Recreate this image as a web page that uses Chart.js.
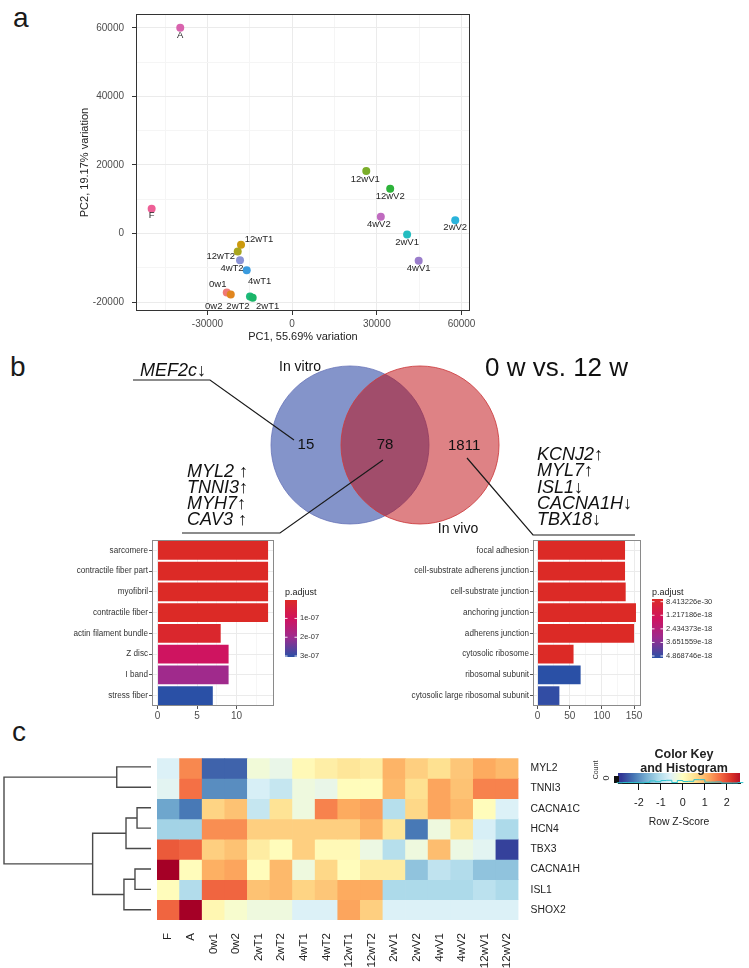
<!DOCTYPE html>
<html>
<head>
<meta charset="utf-8">
<script src="https://cdn.jsdelivr.net/npm/chart.js@4.4.1/dist/chart.umd.min.js"></script>
<style>
html,body{margin:0;padding:0;background:#fff;}
#page{position:relative;width:749px;height:968px;overflow:hidden;background:#fff;}
#page canvas{position:absolute;}
.plbl{position:absolute;font-family:'Liberation Sans',Arial,sans-serif;font-size:28px;line-height:28px;color:#1a1a1a;}
</style>
</head>
<body>
<div id="page">
  <div class="plbl" style="left:13px;top:4px;">a</div>
  <div class="plbl" style="left:10px;top:353px;">b</div>
  <div class="plbl" style="left:12px;top:718px;">c</div>
  <canvas id="cPCA" width="480" height="346" style="left:0;top:0;"></canvas>
  <canvas id="cVenn" width="749" height="215" style="left:0;top:330px;"></canvas>
  <canvas id="cGoL" width="380" height="200" style="left:0;top:530px;"></canvas>
  <canvas id="cGoR" width="369" height="200" style="left:380px;top:530px;"></canvas>
  <canvas id="cDend" width="157" height="228" style="left:0;top:740px;"></canvas>
  <canvas id="cHeat" width="749" height="228" style="left:0;top:740px;"></canvas>
  <canvas id="cKey" width="189" height="88" style="left:560px;top:740px;"></canvas>
</div>
<script>
// ================= DATA =================
// Panel a: PCA
const pcaSamples = ['A','F','12wV1','12wV2','4wV2','2wV2','2wV1','4wV1','12wT1','12wT2','4wT2','4wT1','0w1','0w2','2wT2','2wT1'];
const pc1Values  = [-39630,-49760,26260,34730,31410,57770,40720,44820,-18100,-19270,-18460,-16090,-23150,-21740,-14930,-13970];
const pc2Values  = [60000,7230,18280,13050,4890,3850,-280,-7960,-3260,-5230,-7760,-10690,-17150,-17800,-18360,-18730];
const pc1TickLabels = [-30000,0,30000,60000];
const pc2TickLabels = [-20000,0,20000,40000,60000];

// Panel b: Venn
const vennSets = ['In vitro','In vivo'];
const vennCounts = [15, 78, 1811];            // only in vitro, shared, only in vivo
const vennTitle = '0 w vs. 12 w';
const genesVitroOnly = ['MEF2c\u2193'];
const genesShared = ['MYL2 \u2191','TNNI3\u2191','MYH7\u2191','CAV3 \u2191'];
const genesVivoOnly = ['KCNJ2\u2191','MYL7\u2191','ISL1\u2193','CACNA1H\u2193','TBX18\u2193'];

// Panel b: GO enrichment (shared genes)
const goSharedTerms  = ['sarcomere','contractile fiber part','myofibril','contractile fiber','actin filament bundle','Z disc','I band','stress fiber'];
const goSharedCounts = [14,14,14,14,8,9,9,7];
const goSharedPadj   = [2.3e-9,2.3e-9,2.3e-9,2.3e-9,1.5e-8,1.05e-7,1.95e-7,3.05e-7];
const goSharedLegend = [1e-7,2e-7,3e-7];
const goSharedTicks  = [0,5,10];

// Panel b: GO enrichment (in vivo only genes)
const goVivoTerms  = ['focal adhesion','cell-substrate adherens junction','cell-substrate junction','anchoring junction','adherens junction','cytosolic ribosome','ribosomal subunit','cytosolic large ribosomal subunit'];
const goVivoCounts = [136,136,137,153,150,56,67,34];
const goVivoPadj   = [8.413226e-30,8.413226e-30,9.5e-30,1.2e-29,3.1e-29,2.6e-25,4.868746e-18,4.75e-18];
const goVivoLegend = [8.413226e-30,1.217186e-18,2.434373e-18,3.651559e-18,4.868746e-18];
const goVivoLegendText = ['8.413226e-30','1.217186e-18','2.434373e-18','3.651559e-18','4.868746e-18'];
const goVivoTicks  = [0,50,100,150];

// Panel c: heatmap (row z-scores)
const heatSamples = ['F','A','0w1','0w2','2wT1','2wT2','4wT1','4wT2','12wT1','12wT2','2wV1','2wV2','4wV1','4wV2','12wV1','12wV2'];
const heatGenes   = ['MYL2','TNNI3','CACNA1C','HCN4','TBX3','CACNA1H','ISL1','SHOX2'];
const zMYL2    = [-0.6,1.45,-2.4,-2.4,-0.25,-0.4,0.1,0.3,0.45,0.35,1.05,0.75,0.55,0.85,1.15,1.0];
const zTNNI3   = [-0.5,1.65,-2.0,-2.0,-0.65,-0.85,-0.3,-0.4,0.05,0.05,1.0,0.55,1.2,0.9,1.5,1.5];
const zCACNA1C = [-1.75,-2.2,0.7,0.9,-0.85,0.5,-0.3,1.5,1.15,1.25,-1.0,0.65,1.2,1.0,0.05,-0.6];
const zHCN4    = [-1.2,-1.2,1.4,1.4,0.75,0.75,0.75,0.75,0.75,1.05,0.45,-2.2,-0.3,0.5,-0.65,-1.1];
const zTBX3    = [1.85,1.75,0.75,0.9,0.35,0.05,0.75,0.1,0.1,-0.35,-1.0,-0.3,0.95,-0.35,-0.5,-2.7];
const zCACNA1H = [2.8,0.05,1.1,1.2,0.05,1.0,-0.3,0.65,0.05,0.35,0.35,-1.4,-0.9,-1.05,-1.4,-1.4];
const zISL1    = [0.05,-1.05,1.75,1.75,0.9,1.0,0.7,0.85,1.15,1.15,-1.1,-1.1,-1.1,-1.1,-0.95,-1.1];
const zSHOX2   = [1.75,2.8,0.15,-0.15,-0.3,-0.3,-0.6,-0.6,1.2,0.75,-0.6,-0.6,-0.6,-0.6,-0.6,-0.6];
const zKeyTicks = [-2,-1,0,1,2];

// Panel c: row dendrogram (hclust-style merges; negative = leaf row, positive = earlier merge)
const mergeA = [-3,-6,1,2,-1,3,5];
const mergeB = [-4,-7,-5,-8,-2,4,6];
const mergeH = [0.95,1.09,1.70,1.84,2.33,3.97,10.0];

// ================= STYLE HELPERS =================
const SANS = "'Liberation Sans', Arial, sans-serif";
// use a narrow face if installed, otherwise shrink regular text to a similar width
const _m=document.createElement('canvas').getContext('2d');
_m.font="20px 'Liberation Sans Narrow'";const _wN=_m.measureText('abcdefghijklmn').width;
_m.font="20px 'Liberation Sans'";const _wR=_m.measureText('abcdefghijklmn').width;
const HAS_NARROW=_wN<_wR*0.9;
const NARROW = HAS_NARROW?"'Liberation Sans Narrow', 'Liberation Sans', Arial, sans-serif":SANS;
const nsz = s => HAS_NARROW ? s : +(s*0.83).toFixed(2);

Chart.defaults.font.family = SANS;
Chart.defaults.color = '#4D4D4D';
Chart.defaults.animation = false;
Chart.defaults.events = [];
Chart.defaults.plugins.legend.display = false;
Chart.defaults.plugins.tooltip.enabled = false;

function hex2rgb(h){return [parseInt(h.slice(1,3),16),parseInt(h.slice(3,5),16),parseInt(h.slice(5,7),16)];}
function rampColor(stops,t){
  t=Math.max(0,Math.min(1,t));
  for(let i=1;i<stops.length;i++){
    if(t<=stops[i][0]){
      const [t0,c0]=stops[i-1],[t1,c1]=stops[i];
      const f=(t-t0)/(t1-t0), A=hex2rgb(c0), B=hex2rgb(c1);
      return 'rgb('+A.map((v,k)=>Math.round(v+(B[k]-v)*f)).join(',')+')';
    }
  }
  return stops[stops.length-1][1];
}
const padjStops=[[0,'#DC2A26'],[0.33,'#D0135F'],[0.66,'#9C2C8F'],[1,'#2A50A6']];
const rdylbu=['#313695','#4575b4','#74add1','#abd9e9','#e0f3f8','#ffffbf','#fee090','#fdae61','#f46d43','#d73027','#a50026'];
const zMin=-2.8,zMax=2.8;
const zStops=rdylbu.map((c,i)=>[i/(rdylbu.length-1),c]);
function zColor(z){return rampColor(zStops,(z-zMin)/(zMax-zMin));}

const panelBorder={id:'panelBorder',afterDraw(chart,args,opts){
  const {ctx,chartArea:a}=chart;ctx.save();ctx.strokeStyle=opts.color||'#333';ctx.lineWidth=opts.width||1;
  ctx.strokeRect(Math.round(a.left)+0.5,Math.round(a.top)+0.5,Math.round(a.right-a.left)-1,Math.round(a.bottom-a.top)-1);ctx.restore();}};

// ================= PANEL a =================
const pcaColors=['#D963AE','#EE5F96','#7BAE2A','#2DB33A','#C06BC0','#2AB3DB','#24BDC0','#9A7DCB','#CC9A0E','#A8A51E','#8A93D6','#3A9BDE','#F07A76','#E1861E','#1DB97A','#1BB568'];
const pcaLabelOffsets=[[0,8],[0,7],[-1,8],[0,8],[-2,8],[0,7],[0,8],[0,8],[18,-5],[-17,5],[-8,8],[13,11],[-9,-8],[-17,12],[-12,10],[15,9]];
const pointLabels={id:'pointLabels',afterDatasetsDraw(chart){
  const {ctx}=chart;const meta=chart.getDatasetMeta(0);
  ctx.save();ctx.font="9.5px "+SANS;ctx.fillStyle='#262626';ctx.textAlign='center';ctx.textBaseline='middle';
  meta.data.forEach((p,i)=>{const o=pcaLabelOffsets[i];ctx.fillText(pcaSamples[i],p.x+o[0],p.y+o[1]);});
  ctx.restore();}};
const pc1Grid=[-45000,-30000,-15000,0,15000,30000,45000,60000];
const pc2Grid=[-20000,-10000,0,10000,20000,30000,40000,50000,60000];
new Chart(document.getElementById('cPCA'),{
  type:'scatter',
  data:{datasets:[{data:pc1Values.map((x,i)=>({x:x,y:pc2Values[i]})),pointBackgroundColor:pcaColors,pointBorderWidth:0,pointRadius:4}]},
  options:{responsive:false,layout:{padding:{left:78,top:3,right:10,bottom:0}},
    plugins:{panelBorder:{color:'#333'}},
    scales:{
      x:{type:'linear',min:-55300,max:63000,
        afterBuildTicks:a=>{a.ticks=pc1Grid.map(v=>({value:v}));},
        ticks:{callback:v=>pc1TickLabels.includes(v)?String(v):'',font:{size:10},color:'#4D4D4D',padding:3,maxRotation:0,autoSkip:false},
        grid:{color:c=>pc1TickLabels.includes(c.tick.value)?'#EBEBEB':'#F5F5F5',tickColor:c=>pc1TickLabels.includes(c.tick.value)?'#333':'rgba(0,0,0,0)',tickLength:4},
        border:{display:false},
        title:{display:true,text:'PC1, 55.69% variation',font:{size:11},color:'#222',padding:{top:0,bottom:2}},
        afterFit:s=>{s.height=35;}},
      y:{type:'linear',min:-22580,max:64030,
        afterBuildTicks:a=>{a.ticks=pc2Grid.map(v=>({value:v}));},
        ticks:{callback:v=>pc2TickLabels.includes(v)?String(v):'',font:{size:10},color:'#4D4D4D',padding:8,autoSkip:false},
        grid:{color:c=>pc2TickLabels.includes(c.tick.value)?'#EBEBEB':'#F5F5F5',tickColor:c=>pc2TickLabels.includes(c.tick.value)?'#333':'rgba(0,0,0,0)',tickLength:4},
        border:{display:false},
        title:{display:true,text:'PC2, 19.17% variation',font:{size:11},color:'#222',padding:{top:0,bottom:0}},
        afterFit:s=>{s.width=58;}}
    }},
  plugins:[panelBorder,pointLabels]
});

// ================= PANEL b: Venn =================
const T=330; // canvas top on page
const vennAnnot={id:'vennAnnot',afterDatasetsDraw(chart){
  const {ctx,scales:{x:xs,y:ys}}=chart;
  ctx.save();
  ctx.fillStyle='#111';ctx.textAlign='center';ctx.textBaseline='middle';ctx.font="15px "+SANS;
  const cy=ys.getPixelForValue(0);
  ctx.fillText(String(vennCounts[0]),xs.getPixelForValue(-1.13),cy);
  ctx.fillText(String(vennCounts[1]),xs.getPixelForValue(0),cy);
  ctx.fillText(String(vennCounts[2]),xs.getPixelForValue(1.13),cy+1);
  ctx.font="14px "+SANS;
  ctx.fillText(vennSets[0],300,367-T);
  ctx.fillText(vennSets[1],458,529-T);
  ctx.textAlign='left';ctx.font="26px "+SANS;
  ctx.fillText(vennTitle,485,369-T);
  ctx.font="italic 18px "+SANS;
  ctx.fillText(genesVitroOnly[0],140,371-T);
  genesShared.forEach((g,i)=>ctx.fillText(g,187,472-T+i*16));
  genesVivoOnly.forEach((g,i)=>ctx.fillText(g,537,455-T+i*16.3));
  ctx.strokeStyle='#1a1a1a';ctx.lineWidth=1.2;
  const paths=[[[133,380],[210,380],[294,440]],[[383,460],[280,533],[182,533]],[[467,458],[533,535],[635,535]]];
  paths.forEach(p=>{ctx.beginPath();p.forEach((q,i)=>{i?ctx.lineTo(q[0],q[1]-T):ctx.moveTo(q[0],q[1]-T);});ctx.stroke();});
  ctx.restore();}};
new Chart(document.getElementById('cVenn'),{
  type:'bubble',
  data:{datasets:[
    {label:vennSets[0],order:1,data:[{x:-0.5,y:0,r:79}],backgroundColor:'rgb(132,148,202)',borderColor:'rgba(105,118,185,0.8)',borderWidth:1,clip:false},
    {label:vennSets[1],order:0,data:[{x:0.5,y:0,r:79}],backgroundColor:'rgba(189,5,11,0.5)',borderColor:'rgba(205,60,62,0.85)',borderWidth:1,clip:false}
  ]},
  options:{responsive:false,layout:{padding:0,autoPadding:false},
    scales:{x:{display:false,min:-5.5,max:5.2},y:{display:false,min:-1.429,max:1.643}}},
  plugins:[vennAnnot]
});

// ================= PANEL b: GO bar charts =================
function padjLegendPlugin(cfg){
  return {id:'padjLegend',afterDraw(chart){
    const ctx=chart.ctx;ctx.save();
    ctx.font="9px "+SANS;ctx.fillStyle='#222';ctx.textAlign='left';ctx.textBaseline='middle';
    ctx.fillText('p.adjust',cfg.x,cfg.titleY);
    const g=ctx.createLinearGradient(0,cfg.y0,0,cfg.y1);
    padjStops.forEach(s=>g.addColorStop(s[0],s[1]));
    ctx.fillStyle=g;ctx.fillRect(cfg.x,cfg.y0,cfg.w,cfg.y1-cfg.y0);
    ctx.font="7.5px "+SANS;
    cfg.values.forEach((v,i)=>{
      const t=(v-cfg.vmin)/(cfg.vmax-cfg.vmin);
      const y=cfg.l0+t*(cfg.l1-cfg.l0);
      ctx.strokeStyle='rgba(255,255,255,0.9)';ctx.lineWidth=1;
      ctx.beginPath();ctx.moveTo(cfg.x,y);ctx.lineTo(cfg.x+2.5,y);ctx.moveTo(cfg.x+cfg.w-2.5,y);ctx.lineTo(cfg.x+cfg.w,y);ctx.stroke();
      ctx.fillStyle='#333';ctx.fillText(cfg.texts[i],cfg.x+cfg.w+3,y);
    });
    ctx.restore();}};
}
function makeGo(id,terms,counts,padj,xmin,xmax,majors,minors,yW,rightPad,legendCfg){
  const pmin=Math.min(...padj),pmax=Math.max(...padj);
  const cols=padj.map(p=>rampColor(padjStops,(p-pmin)/(pmax-pmin)));
  const all=majors.concat(minors).sort((a,b)=>a-b);
  legendCfg.vmin=pmin;legendCfg.vmax=pmax;
  new Chart(document.getElementById(id),{
    type:'bar',
    data:{labels:terms,datasets:[{data:counts,backgroundColor:cols,barPercentage:0.9,categoryPercentage:1,borderWidth:0}]},
    options:{indexAxis:'y',responsive:false,layout:{padding:{left:0,top:10,right:rightPad,bottom:0}},
      plugins:{panelBorder:{color:'#8a8a8a'}},
      scales:{
        x:{type:'linear',min:xmin,max:xmax,afterBuildTicks:a=>{a.ticks=all.map(v=>({value:v}));},
          ticks:{callback:v=>majors.includes(v)?String(v):'',font:{size:10},color:'#4D4D4D',padding:1,maxRotation:0,autoSkip:false},
          grid:{color:c=>majors.includes(c.tick.value)?'#EBEBEB':'#F6F6F6',tickColor:c=>majors.includes(c.tick.value)?'#555':'rgba(0,0,0,0)',tickLength:3},
          border:{display:false},afterFit:s=>{s.height=24;}},
        y:{ticks:{font:{size:nsz(9.8),family:NARROW},color:'#333',padding:1,autoSkip:false},
          grid:{offset:false,color:'#EBEBEB',tickColor:'#555',tickLength:3},
          border:{display:false},afterFit:s=>{s.width=yW;}}
      }},
    plugins:[panelBorder,padjLegendPlugin(legendCfg)]
  });
}
makeGo('cGoL',goSharedTerms,goSharedCounts,goSharedPadj,-0.7,14.75,goSharedTicks,[2.5,7.5,12.5],152,106,
  {x:285,w:12,titleY:63,y0:70,y1:127,l0:70,l1:127,values:goSharedLegend,texts:['1e-07','2e-07','3e-07']});
makeGo('cGoR',goVivoTerms,goVivoCounts,goVivoPadj,-7,160.8,goVivoTicks,[25,75,125],153,108,
  {x:272,w:11,titleY:63,y0:69,y1:128,l0:71.7,l1:126,values:goVivoLegend,texts:goVivoLegendText});

// ================= PANEL c: heatmap =================
const zRows=[zMYL2,zTNNI3,zCACNA1C,zHCN4,zTBX3,zCACNA1H,zISL1,zSHOX2];
new Chart(document.getElementById('cHeat'),{
  type:'bar',
  data:{labels:heatSamples,datasets:zRows.map((row,i)=>({label:heatGenes[i],data:row.map(()=>1),backgroundColor:row.map(zColor),barPercentage:1,categoryPercentage:1,borderWidth:0}))},
  options:{responsive:false,layout:{padding:{left:157,top:16.7,right:0,bottom:0}},
    scales:{
      x:{stacked:true,ticks:{font:{size:11.5},color:'#222',minRotation:90,maxRotation:90,padding:13,autoSkip:false},
        grid:{display:false,drawTicks:false},border:{display:false},afterFit:s=>{s.height=48;}},
      y:{stacked:true,position:'right',reverse:true,min:0,max:heatGenes.length,
        afterBuildTicks:a=>{a.ticks=heatGenes.map((g,i)=>({value:i+0.5}));},
        ticks:{callback:(v,i)=>heatGenes[i],font:{size:nsz(12.5),family:NARROW},color:'#222',padding:12,autoSkip:false},
        grid:{display:false,drawTicks:false},border:{display:false},afterFit:s=>{s.width=230.5;}}
    }}
});

// dendrogram
const nodeY=[];
function childPos(c){return c<0?{y:-c-1+0.5,h:0}:{y:nodeY[c-1],h:mergeH[c-1]};}
const dendSets=mergeH.map((h,k)=>{
  const a=childPos(mergeA[k]),b=childPos(mergeB[k]);nodeY[k]=(a.y+b.y)/2;
  return {data:[{x:a.h,y:a.y},{x:h,y:a.y},{x:h,y:b.y},{x:b.h,y:b.y}],showLine:true,pointRadius:0,borderColor:'#4a4a4a',borderWidth:1.4,clip:false,tension:0};
});
new Chart(document.getElementById('cDend'),{
  type:'scatter',data:{datasets:dendSets},
  options:{responsive:false,layout:{padding:{left:4,right:6,top:16.7,bottom:48},autoPadding:false},
    scales:{x:{display:false,reverse:true,min:0,max:Math.max(...mergeH)},y:{display:false,reverse:true,min:0,max:heatGenes.length}}}
});

// color key + histogram
const allZ=[].concat(...zRows);
const binEdges=[];for(let b=-3;b<=2.75+1e-9;b+=0.25)binEdges.push(+b.toFixed(2));
const binCounts=binEdges.map(e=>allZ.filter(z=>z>=e&&z<e+0.25).length);
const keyPlugin={id:'keyPlugin',
  beforeDatasetsDraw(chart){
    const {ctx,chartArea:a,scales:{x:xs}}=chart;
    const g=ctx.createLinearGradient(a.left,0,a.right,0);
    g.addColorStop(0,zColor(xs.min));
    zStops.forEach(s=>{const v=zMin+s[0]*(zMax-zMin);const t=(xs.getPixelForValue(v)-a.left)/(a.right-a.left);if(t>0&&t<1)g.addColorStop(t,s[1]);});
    g.addColorStop(1,zColor(xs.max));
    ctx.save();ctx.fillStyle=g;ctx.fillRect(a.left,a.top,a.right-a.left,a.bottom-a.top);
    ctx.fillStyle='#111';ctx.fillRect(a.left-4,a.top+3,5,a.bottom-a.top-3);
    ctx.restore();},
  afterDraw(chart){
    const {ctx}=chart;ctx.save();
    ctx.fillStyle='#222';ctx.textAlign='center';ctx.textBaseline='middle';
    ctx.font="bold 12.5px "+SANS;
    ctx.fillText('Color Key',124,15);ctx.fillText('and Histogram',124,29);
    ctx.font="7px "+SANS;ctx.fillStyle='#333';
    ctx.translate(36,30);ctx.rotate(-Math.PI/2);ctx.fillText('Count',0,0);ctx.restore();
    ctx.save();ctx.font="9px "+SANS;ctx.fillStyle='#333';ctx.textAlign='center';ctx.textBaseline='middle';
    ctx.translate(47,38);ctx.rotate(-Math.PI/2);ctx.fillText('0',0,0);ctx.restore();}
};
new Chart(document.getElementById('cKey'),{
  type:'line',
  data:{datasets:[{data:binEdges.map((e,i)=>({x:e,y:binCounts[i]})),stepped:'after',borderColor:'#2EC4CF',borderWidth:1,pointRadius:0,clip:false}]},
  options:{responsive:false,layout:{padding:{left:58,right:9,top:33,bottom:0}},
    scales:{
      x:{type:'linear',min:-2.95,max:2.6,afterBuildTicks:a=>{a.ticks=zKeyTicks.map(v=>({value:v}));},
        ticks:{callback:v=>String(v),font:{size:nsz(13),family:NARROW},color:'#222',padding:7,maxRotation:0,autoSkip:false},
        grid:{drawOnChartArea:false,tickColor:'#111',tickLength:7},border:{display:true,color:'#111',width:1},
        title:{display:true,text:'Row Z-Score',font:{size:nsz(12.5),family:NARROW},color:'#222',padding:{top:2,bottom:0}},
        afterFit:s=>{s.height=45;}},
      y:{display:false,min:0,max:Math.max(...binCounts)*3}
    }},
  plugins:[keyPlugin]
});
</script>
</body>
</html>
